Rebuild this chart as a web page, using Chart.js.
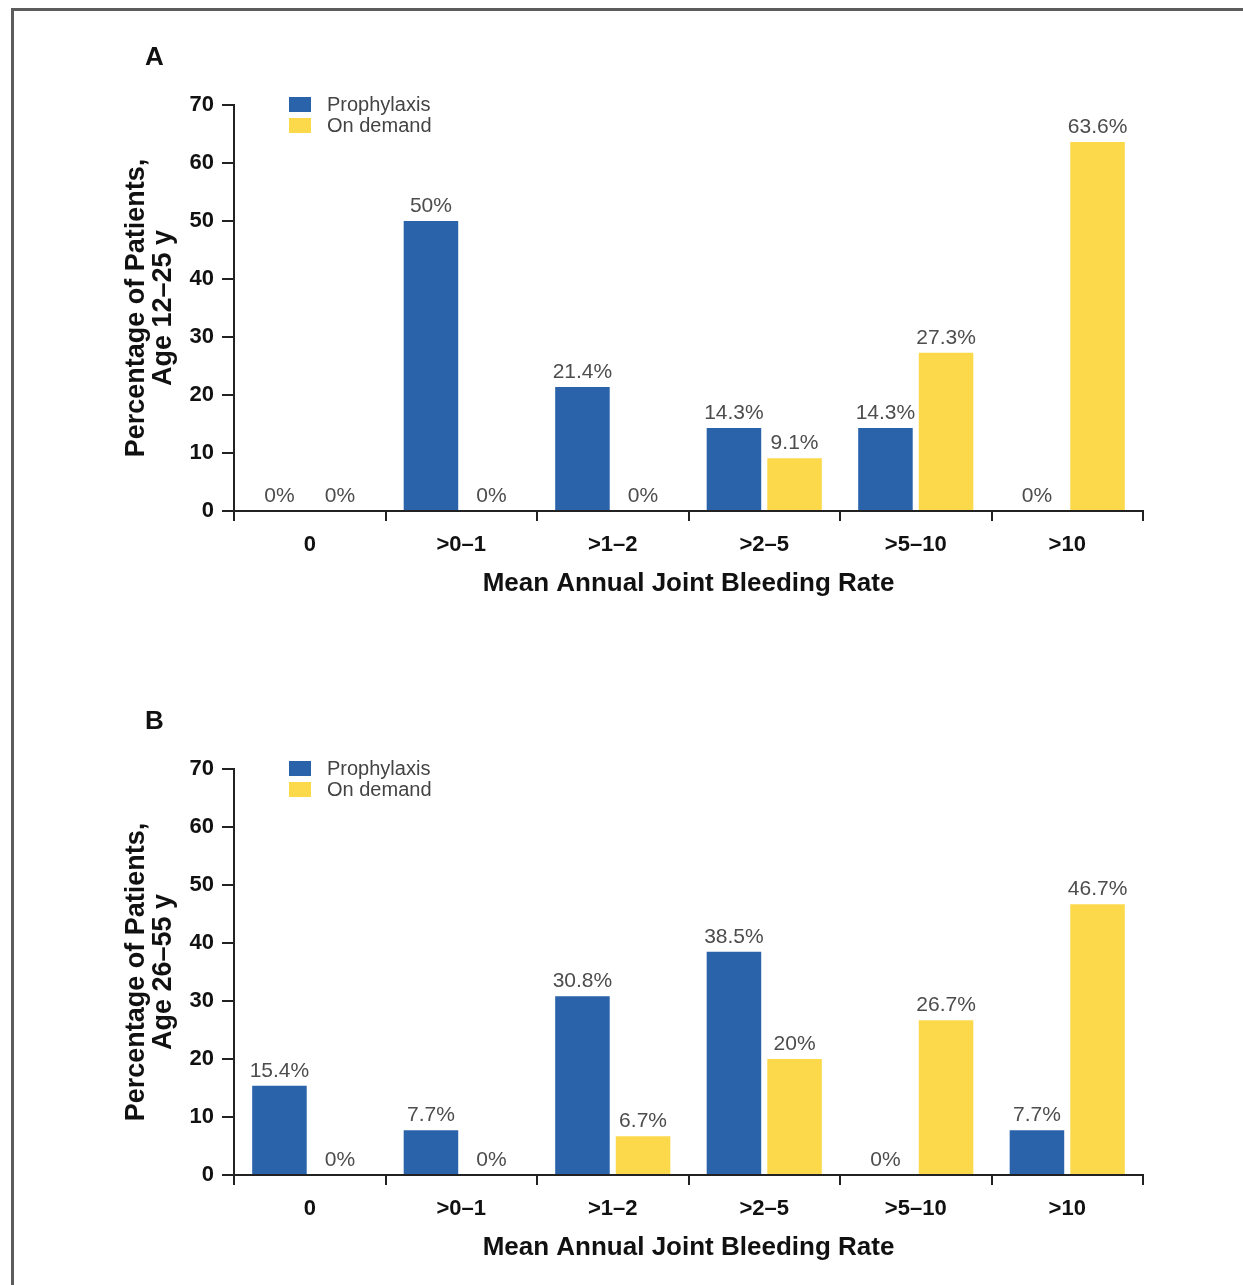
<!DOCTYPE html>
<html><head><meta charset="utf-8">
<script src="https://cdn.jsdelivr.net/npm/chart.js@4.4.1/dist/chart.umd.min.js"></script>
<style>
html,body{margin:0;padding:0;background:#fff;width:1243px;height:1285px;overflow:hidden;position:relative;}
#frame{position:absolute;left:11px;top:8px;width:1300px;height:1330px;border:3px solid #5c5c5c;box-sizing:border-box;}
.panel{position:absolute;left:0;width:1243px;height:620px;}
.lbl{position:absolute;font:bold 26px "Liberation Sans",Arial,sans-serif;line-height:26px;color:#111;}
</style></head><body>
<div id="frame"></div>
<div class="panel" style="top:0"><canvas id="cA" width="1243" height="620"></canvas></div>
<div class="panel" style="top:664px"><canvas id="cB" width="1243" height="620"></canvas></div>
<div class="lbl" style="left:145px;top:43px">A</div>
<div class="lbl" style="left:145px;top:707px">B</div>
<script>
const categories = ['0', '>0–1', '>1–2', '>2–5', '>5–10', '>10'];
const seriesNames = ['Prophylaxis', 'On demand'];
const prophylaxisA = [0, 50, 21.4, 14.3, 14.3, 0];
const onDemandA = [0, 0, 0, 9.1, 27.3, 63.6];
const prophylaxisB = [15.4, 7.7, 30.8, 38.5, 0, 7.7];
const onDemandB = [0, 0, 6.7, 20, 26.7, 46.7];
const yMin = 0, yMax = 70, yStep = 10;
const xTitle = 'Mean Annual Joint Bleeding Rate';
const yTitleA = ['Percentage of Patients,', 'Age 12–25 y'];
const yTitleB = ['Percentage of Patients,', 'Age 26–55 y'];

const F = '"Liberation Sans", Arial, Helvetica, sans-serif';
const BLUE = '#2a63aa', YELLOW = '#fbd94b', AXIS = '#222';

const valueLabels = {
  id: 'valueLabels',
  afterDatasetsDraw(chart) {
    const ctx = chart.ctx;
    ctx.save();
    ctx.font = '21px ' + F;
    ctx.fillStyle = '#4d4d4d';
    ctx.textAlign = 'center';
    ctx.textBaseline = 'alphabetic';
    chart.data.datasets.forEach((ds, i) => {
      chart.getDatasetMeta(i).data.forEach((bar, j) => {
        ctx.fillText(ds.data[j] + '%', bar.x, bar.y - 9);
      });
    });
    ctx.restore();
  }
};

const insideLegend = {
  id: 'insideLegend',
  afterDraw(chart) {
    const { ctx, chartArea } = chart;
    const x0 = chartArea.left + 55, y0 = chartArea.top - 8;
    ctx.save();
    chart.data.datasets.forEach((ds, i) => {
      const y = y0 + i * 21;
      ctx.fillStyle = ds.backgroundColor;
      ctx.fillRect(x0, y, 22, 15);
      ctx.fillStyle = '#444';
      ctx.font = '20px ' + F;
      ctx.textBaseline = 'middle';
      ctx.textAlign = 'left';
      ctx.fillText(ds.label, x0 + 38, y + 8);
    });
    ctx.restore();
  }
};

function makeChart(id, pro, dem, yTitle) {
  return new Chart(document.getElementById(id), {
    type: 'bar',
    data: {
      labels: categories,
      datasets: [
        { label: seriesNames[0], data: pro, backgroundColor: BLUE, borderWidth: 0 },
        { label: seriesNames[1], data: dem, backgroundColor: YELLOW, borderWidth: 0 }
      ]
    },
    options: {
      responsive: false,
      animation: false,
      devicePixelRatio: 1,
      categoryPercentage: 0.8,
      barPercentage: 0.9,
      layout: { padding: { left: 0, top: 105, right: 100, bottom: 0 } },
      plugins: { legend: { display: false }, tooltip: { enabled: false }, title: { display: false } },
      scales: {
        x: {
          ticks: { color: '#111', font: { family: F, size: 22, weight: 'bold' }, padding: 11 },
          grid: { display: true, drawOnChartArea: false, drawTicks: true, tickLength: 10, color: AXIS, lineWidth: 2 },
          border: { display: true, color: AXIS, width: 2 },
          title: { display: true, text: xTitle, color: '#111', font: { family: F, size: 26, weight: 'bold', lineHeight: 1.2 }, padding: { top: 0, bottom: 21 } },
          afterFit(s) { s.height = 109; }
        },
        y: {
          min: yMin, max: yMax,
          ticks: { stepSize: yStep, color: '#111', font: { family: F, size: 22, weight: 'bold' }, padding: 8 },
          grid: { display: true, drawOnChartArea: false, drawTicks: true, tickLength: 12, color: AXIS, lineWidth: 2 },
          border: { display: true, color: AXIS, width: 2 },
          title: { display: true, text: yTitle, color: '#111', font: { family: F, size: 27, weight: 'bold', lineHeight: 1.0 }, padding: { top: 123, bottom: 0 } },
          afterFit(s) { s.width = 234; }
        }
      }
    },
    plugins: [valueLabels, insideLegend]
  });
}

makeChart('cA', prophylaxisA, onDemandA, yTitleA);
makeChart('cB', prophylaxisB, onDemandB, yTitleB);
</script>
</body></html>
